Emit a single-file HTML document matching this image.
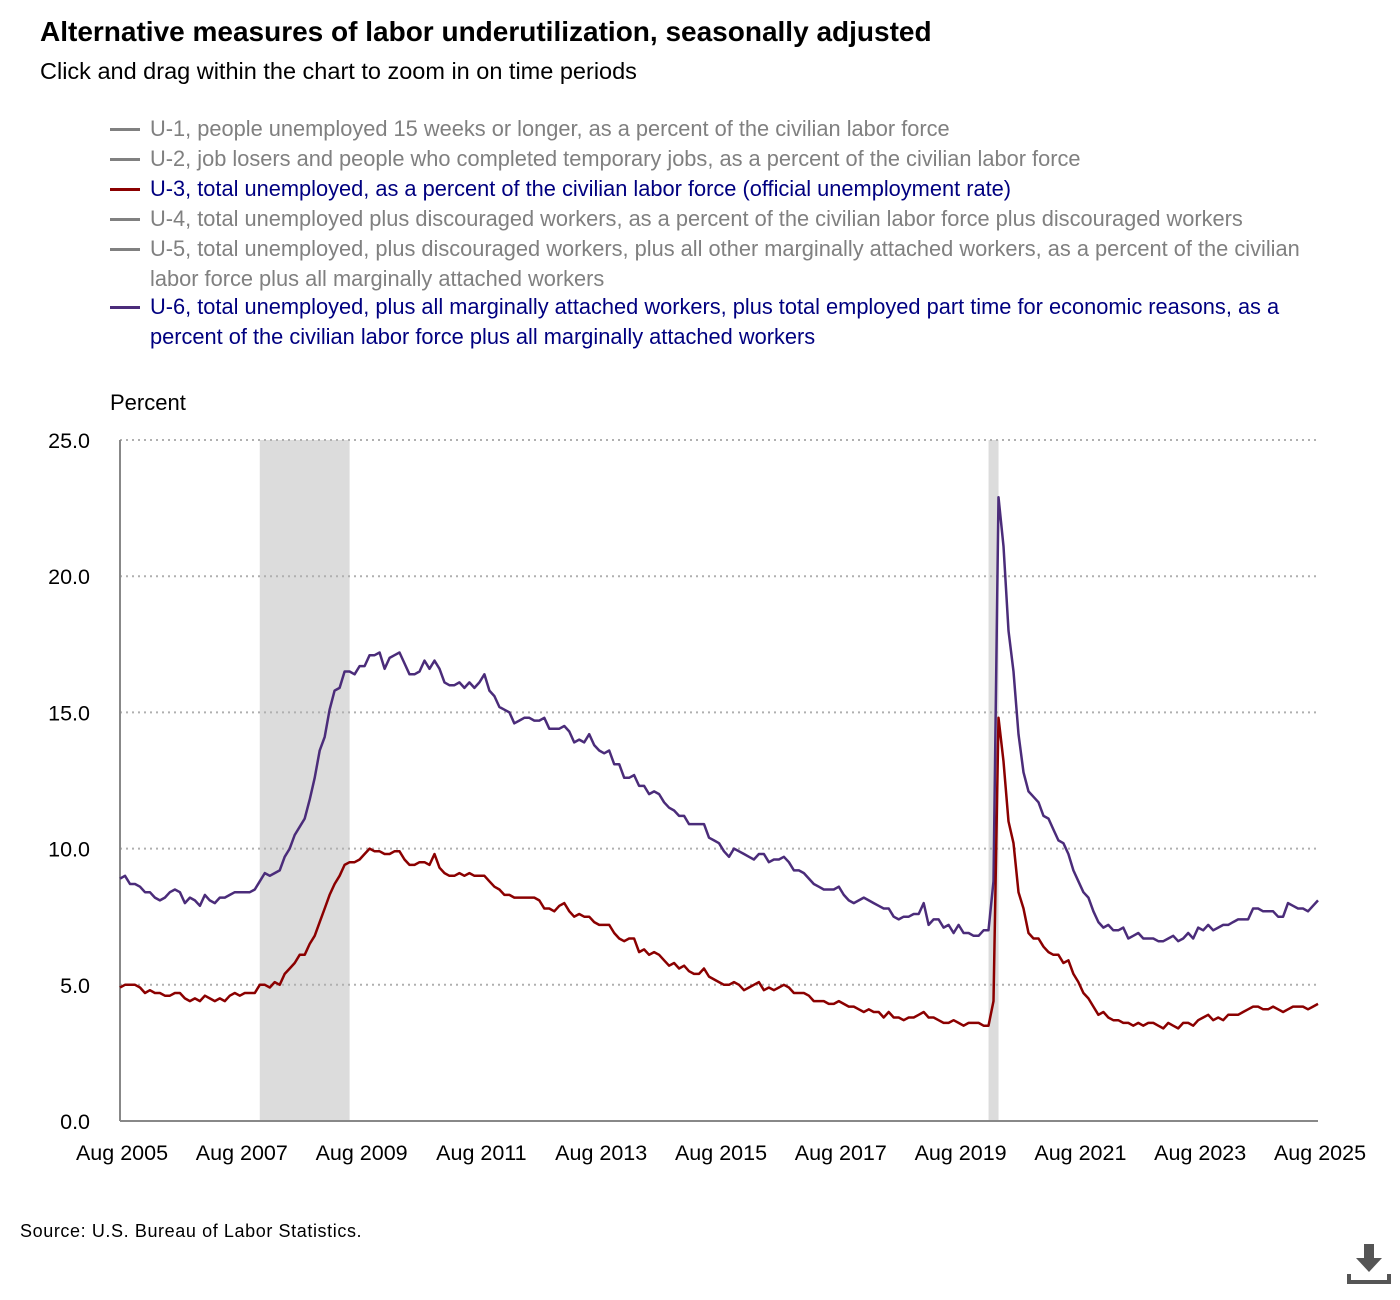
<!DOCTYPE html>
<html><head><meta charset="utf-8">
<style>
body{margin:0;background:#fff;width:1400px;height:1300px;overflow:hidden;font-family:"Liberation Sans","DejaVu Sans",sans-serif;}
#wrap{position:relative;width:1400px;height:1300px;}
.title{position:absolute;left:40px;top:16px;font-size:28px;font-weight:bold;color:#000;white-space:nowrap;}
.sub{position:absolute;left:40px;top:58px;font-size:23.5px;color:#000;white-space:nowrap;}
.leg{position:absolute;left:110px;font-size:21.8px;line-height:29.5px;width:1230px;}
.leg .sw{position:absolute;left:0;top:14px;width:30px;height:3px;}
.leg .tx{margin-left:40px;display:block;}
.src{position:absolute;left:20px;top:1221px;font-size:18px;letter-spacing:0.6px;color:#000;white-space:nowrap;}
</style></head><body>
<div id="wrap">
<div class="title">Alternative measures of labor underutilization, seasonally adjusted</div>
<div class="sub">Click and drag within the chart to zoom in on time periods</div>

<div class="leg" style="top:114px;color:#808080"><span class="sw" style="background:#808080"></span><span class="tx">U-1, people unemployed 15 weeks or longer, as a percent of the civilian labor force</span></div>
<div class="leg" style="top:144px;color:#808080"><span class="sw" style="background:#808080"></span><span class="tx">U-2, job losers and people who completed temporary jobs, as a percent of the civilian labor force</span></div>
<div class="leg" style="top:174px;color:#000080"><span class="sw" style="background:#8b0000"></span><span class="tx">U-3, total unemployed, as a percent of the civilian labor force (official unemployment rate)</span></div>
<div class="leg" style="top:204px;color:#808080"><span class="sw" style="background:#808080"></span><span class="tx">U-4, total unemployed plus discouraged workers, as a percent of the civilian labor force plus discouraged workers</span></div>
<div class="leg" style="top:234px;color:#808080"><span class="sw" style="background:#808080"></span><span class="tx">U-5, total unemployed, plus discouraged workers, plus all other marginally attached workers, as a percent of the civilian labor force plus all marginally attached workers</span></div>
<div class="leg" style="top:292px;color:#000080"><span class="sw" style="background:#4b2c7a"></span><span class="tx">U-6, total unemployed, plus all marginally attached workers, plus total employed part time for economic reasons, as a percent of the civilian labor force plus all marginally attached workers</span></div>

<svg id="chart" width="1400" height="1300" style="position:absolute;left:0;top:0"></svg>

<div class="src">Source: U.S. Bureau of Labor Statistics.</div>
<svg style="position:absolute;left:1346px;top:1242px" width="46" height="46">
<rect x="18" y="2" width="10" height="15" fill="#555"/>
<polygon points="10,16 36,16 23,30" fill="#555"/>
<polyline points="3,32 3,40 43,40 43,32" fill="none" stroke="#555" stroke-width="4"/>
</svg>
</div>
<script>
const yTicks=[0,5,10,15,20,25];
const yTickLabels=["0.0","5.0","10.0","15.0","20.0","25.0"];
const xTickLabels=["Aug 2005","Aug 2007","Aug 2009","Aug 2011","Aug 2013","Aug 2015","Aug 2017","Aug 2019","Aug 2021","Aug 2023","Aug 2025"];
const recessions=[[28,46],[174,176]];
const u3=[4.9,5.0,5.0,5.0,4.9,
4.7,4.8,4.7,4.7,4.6,4.6,4.7,4.7,4.5,4.4,4.5,4.4,
4.6,4.5,4.4,4.5,4.4,4.6,4.7,4.6,4.7,4.7,4.7,5.0,
5.0,4.9,5.1,5.0,5.4,5.6,5.8,6.1,6.1,6.5,6.8,7.3,
7.8,8.3,8.7,9.0,9.4,9.5,9.5,9.6,9.8,10.0,9.9,9.9,
9.8,9.8,9.9,9.9,9.6,9.4,9.4,9.5,9.5,9.4,9.8,9.3,
9.1,9.0,9.0,9.1,9.0,9.1,9.0,9.0,9.0,8.8,8.6,8.5,
8.3,8.3,8.2,8.2,8.2,8.2,8.2,8.1,7.8,7.8,7.7,7.9,
8.0,7.7,7.5,7.6,7.5,7.5,7.3,7.2,7.2,7.2,6.9,6.7,
6.6,6.7,6.7,6.2,6.3,6.1,6.2,6.1,5.9,5.7,5.8,5.6,
5.7,5.5,5.4,5.4,5.6,5.3,5.2,5.1,5.0,5.0,5.1,5.0,
4.8,4.9,5.0,5.1,4.8,4.9,4.8,4.9,5.0,4.9,4.7,4.7,
4.7,4.6,4.4,4.4,4.4,4.3,4.3,4.4,4.3,4.2,4.2,4.1,
4.0,4.1,4.0,4.0,3.8,4.0,3.8,3.8,3.7,3.8,3.8,3.9,
4.0,3.8,3.8,3.7,3.6,3.6,3.7,3.6,3.5,3.6,3.6,3.6,
3.5,3.5,4.4,14.8,13.2,11.0,10.2,8.4,7.8,6.9,6.7,6.7,
6.4,6.2,6.1,6.1,5.8,5.9,5.4,5.1,4.7,4.5,4.2,3.9,
4.0,3.8,3.7,3.7,3.6,3.6,3.5,3.6,3.5,3.6,3.6,3.5,
3.4,3.6,3.5,3.4,3.6,3.6,3.5,3.7,3.8,3.9,3.7,3.8,
3.7,3.9,3.9,3.9,4.0,4.1,4.2,4.2,4.1,4.1,4.2,4.1,
4.0,4.1,4.2,4.2,4.2,4.1,4.2,4.3];
const u6=[8.9,9.0,8.7,8.7,8.6,
8.4,8.4,8.2,8.1,8.2,8.4,8.5,8.4,8.0,8.2,8.1,7.9,
8.3,8.1,8.0,8.2,8.2,8.3,8.4,8.4,8.4,8.4,8.5,8.8,
9.1,9.0,9.1,9.2,9.7,10.0,10.5,10.8,11.1,11.8,12.6,13.6,
14.1,15.1,15.8,15.9,16.5,16.5,16.4,16.7,16.7,17.1,17.1,17.2,
16.6,17.0,17.1,17.2,16.8,16.4,16.4,16.5,16.9,16.6,16.9,16.6,
16.1,16.0,16.0,16.1,15.9,16.1,15.9,16.1,16.4,15.8,15.6,15.2,
15.1,15.0,14.6,14.7,14.8,14.8,14.7,14.7,14.8,14.4,14.4,14.4,
14.5,14.3,13.9,14.0,13.9,14.2,13.8,13.6,13.5,13.6,13.1,13.1,
12.6,12.6,12.7,12.3,12.3,12.0,12.1,12.0,11.7,11.5,11.4,11.2,
11.2,10.9,10.9,10.9,10.9,10.4,10.3,10.2,9.9,9.7,10.0,9.9,
9.8,9.7,9.6,9.8,9.8,9.5,9.6,9.6,9.7,9.5,9.2,9.2,
9.1,8.9,8.7,8.6,8.5,8.5,8.5,8.6,8.3,8.1,8.0,8.1,
8.2,8.1,8.0,7.9,7.8,7.8,7.5,7.4,7.5,7.5,7.6,7.6,
8.0,7.2,7.4,7.4,7.1,7.2,6.9,7.2,6.9,6.9,6.8,6.8,
7.0,7.0,8.8,22.9,21.1,18.0,16.5,14.2,12.8,12.1,11.9,11.7,
11.2,11.1,10.7,10.3,10.2,9.8,9.2,8.8,8.4,8.2,7.7,7.3,
7.1,7.2,7.0,7.0,7.1,6.7,6.8,6.9,6.7,6.7,6.7,6.6,
6.6,6.7,6.8,6.6,6.7,6.9,6.7,7.1,7.0,7.2,7.0,7.1,
7.2,7.2,7.3,7.4,7.4,7.4,7.8,7.8,7.7,7.7,7.7,7.5,
7.5,8.0,7.9,7.8,7.8,7.7,7.9,8.1];

const NS='http://www.w3.org/2000/svg';
const svg=document.getElementById('chart');
const X0=120,X1=1318,Y0=1121,Y1=440,NM=240;
function xs(m){return X0+(X1-X0)*m/NM;}
function ys(v){return Y0-(Y0-Y1)*v/25;}
function mk(tag,attrs){const e=document.createElementNS(NS,tag);for(const k in attrs)e.setAttribute(k,attrs[k]);svg.appendChild(e);return e;}

recessions.forEach(r=>{
  const e=mk('rect',{x:xs(r[0]),y:Y1,width:xs(r[1])-xs(r[0]),height:Y0-Y1,fill:'#dcdcdc'});
  
  
});
yTicks.forEach((v,i)=>{
  if(v>0){const g=mk('line',{x1:X0,x2:X1,y1:ys(v),y2:ys(v),stroke:'#b0b0b0','stroke-width':2,'stroke-dasharray':'2,4'});
  
  }
  const t=mk('text',{x:90,y:ys(v)+8,'text-anchor':'end','font-size':21.5,fill:'#000','font-family':'Liberation Sans, sans-serif'});
  t.textContent=yTickLabels[i];
  
  
});
let ax=mk('line',{x1:X0,x2:X0,y1:Y1,y2:Y0,stroke:'#888','stroke-width':2});


ax=mk('line',{x1:X0,x2:X1,y1:Y0,y2:Y0,stroke:'#888','stroke-width':2});


xTickLabels.forEach((l,i)=>{
  const t=mk('text',{x:xs(i*24)+2,y:1160,'text-anchor':'middle','font-size':21.5,fill:'#000','font-family':'Liberation Sans, sans-serif'});
  t.textContent=l;
  
  
});
const yt=mk('text',{x:110,y:410,'font-size':22,fill:'#000','font-family':'Liberation Sans, sans-serif'});
yt.textContent='Percent';



function line(d,col,name){
  const p=d.map((v,i)=>(i?'L':'M')+xs(i).toFixed(1)+','+ys(v).toFixed(1)).join('');
  const e=mk('path',{d:p,fill:'none',stroke:col,'stroke-width':2.5,'stroke-linejoin':'round'});
  
  
}
line(u6,'#4b2c7a','u6-line');
line(u3,'#8b0000','u3-line');
</script>
</body></html>
